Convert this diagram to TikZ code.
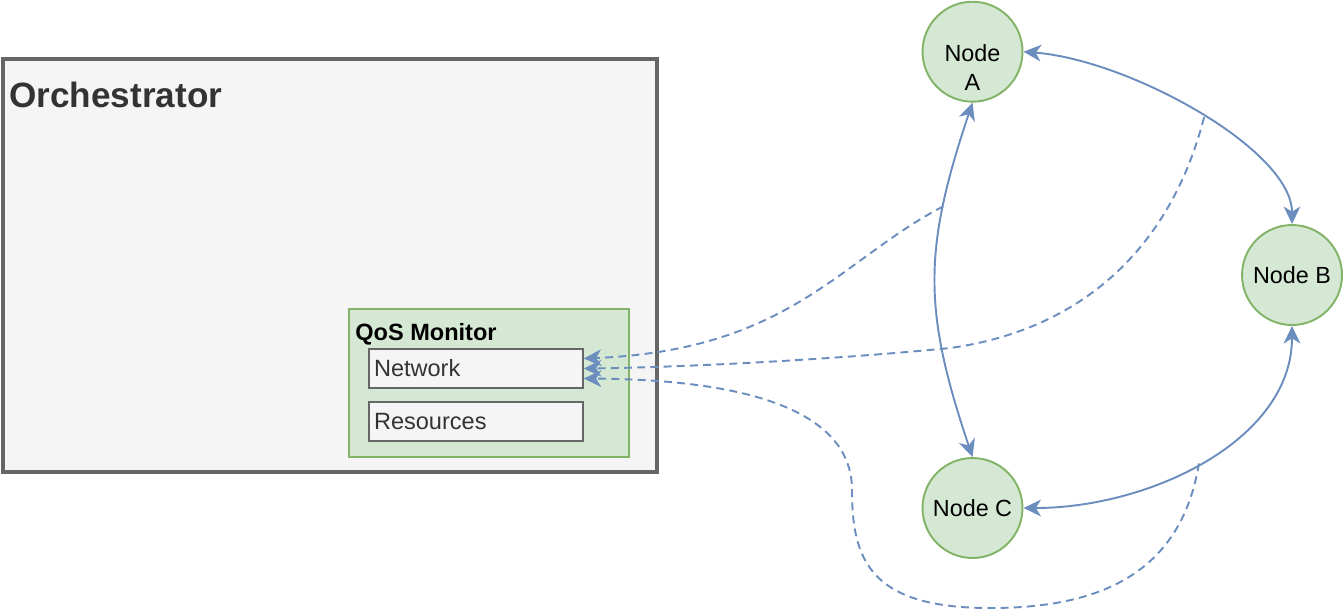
\documentclass[tikz,border=0pt]{standalone}
\usepackage{fontspec}
\setmainfont{Liberation Sans}
\usepackage{xcolor}
\usetikzlibrary{arrows.meta,calc}
\definecolor{edgeblue}{HTML}{6C8EBF}
\definecolor{okgreen}{HTML}{82B366}
\definecolor{okfill}{HTML}{D5E8D4}
\definecolor{boxgray}{HTML}{F5F5F5}
\definecolor{linegray}{HTML}{666666}
\definecolor{textgray}{HTML}{333333}
\tikzset{
	orch/.style={draw=linegray, fill=boxgray, line width=2.2pt,
			minimum width=13.08cm, minimum height=8.26cm, inner sep=0pt},
	monitor/.style={draw=okgreen, fill=okfill, line width=0.85pt,
			minimum width=5.6cm, minimum height=2.96cm, inner sep=0pt},
	field/.style={draw=linegray, fill=boxgray, line width=0.85pt, text=textgray,
			text width=4.08cm, align=left, inner xsep=0.1cm, inner ysep=0pt,
			minimum height=0.78cm, font=\fontsize{13.4}{16}\selectfont},
	station/.style={circle, draw=okgreen, fill=okfill, line width=1.1pt,
			minimum size=2cm, inner sep=0pt, font=\fontsize{13.3}{16}\selectfont},
	link/.style={draw=edgeblue, line width=1.1pt,
			>={Stealth[length=10pt,width=9.5pt,inset=3pt]}, <->},
	probe/.style={draw=edgeblue, line width=1.1pt, dash pattern=on 4.5pt off 3pt,
			>={Stealth[length=10pt,width=9.5pt,inset=3pt]}, ->}
}

\begin{document}
\begin{tikzpicture}[x=0.02cm, y=-0.02cm]
	\useasboundingbox (0,0) rectangle (1344,610);

	% Orchestrator with its QoS monitor
	\node[orch] (orch) at (330,265.5) {};
	\node[anchor=base west, inner sep=0pt, text=textgray,
		font=\fontsize{20}{24}\selectfont\bfseries] (orch-title) at (9,107) {Orchestrator};
	\node[monitor] (qos) at (489,383) {};
	\node[anchor=base west, inner sep=0pt,
		font=\fontsize{13.4}{16}\selectfont\bfseries] (qos-title) at (355,340) {QoS Monitor};
	\node[field] (net) at (476,368.5) {Network};
	\node[field] (res) at (476,421.5) {Resources};

	% Cluster nodes
	\node[station] (a) at (972.5,51.7) {};
	\node[align=center, inner sep=0pt, font=\fontsize{13.3}{16}\selectfont]
		(a-text) at ([yshift=-0.316cm]a.center) {Node\\A};
	\node[station] (b) at (1292,275) {Node B};
	\node[station] (c) at (972.5,508) {Node C};

	% Links between the nodes
	\draw[link] (a.south) .. controls (923,250) and (923,310) .. (c.north)
		coordinate[pos=0.27] (ac);
	\draw[link] (a.east) .. controls (1130,60) and (1292,150) .. (b.north)
		coordinate[pos=0.52] (ab);
	\draw[link] (c.east) .. controls (1150,508) and (1292,440) .. (b.south)
		coordinate[pos=0.48] (cb);

	% Measurements sent back to the monitor
	\draw[probe] (ac) .. controls (840,260) and (790,350) .. ($(net.east)+(0,-10)$);
	\draw[probe] (ab) .. controls (1170,250) and (1080,330) .. (950,348)
		.. controls (850,358) and (700,367) .. (net.east);
	\draw[probe] (cb) .. controls (1180,580) and (1090,608) .. (990,608)
		.. controls (870,608) and (852,560) .. (852,490)
		.. controls (852,420) and (770,380) .. ($(net.east)+(0,10)$);
\end{tikzpicture}
\end{document}
